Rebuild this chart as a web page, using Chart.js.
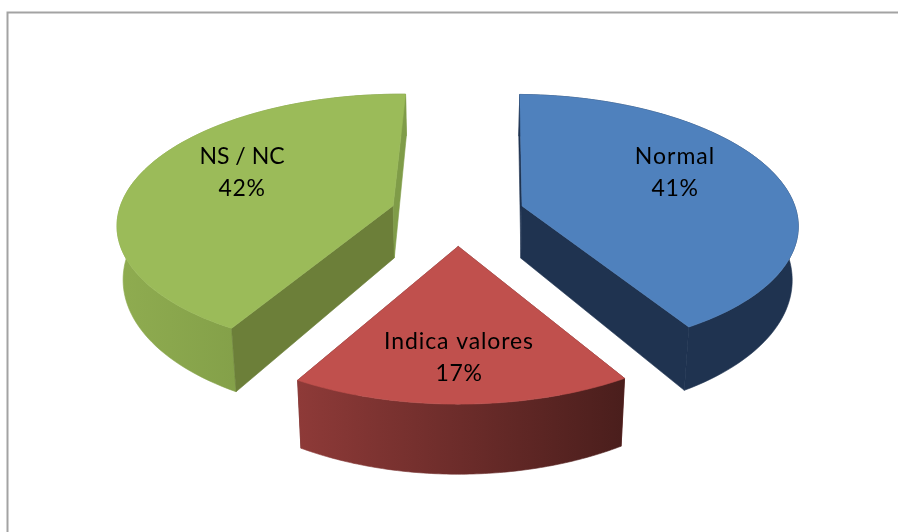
<!DOCTYPE html>
<html>
<head>
<meta charset="utf-8">
<style>html,body{margin:0;padding:0;background:#fff;overflow:hidden}canvas{display:block}</style>
<script src="https://cdn.jsdelivr.net/npm/chart.js@4"></script>
</head>
<body>
<canvas id="c" width="898" height="532"></canvas>
<script>
const categories = ["Normal", "Indica valores", "NS / NC"];
const percentages = [41, 17, 42];

// Slice styling, same order as the categories
const topColors = ["#4F81BD", "#C0504D", "#9BBB59"];
const startEdgeColors = ["#1F3350", "#6D2C2A", "#6C7F39"];
const endEdgeColors = ["#1F3350", "#6D2C2A", "#7F9C48"];
const wallStops = [
  ["#1F3350", "#1F3350"],
  ["#8E3A38", "#4A1E1C"],
  ["#8FAC50", "#74903F"]
];
const labelAnchors = [[675, 157], [459, 342], [242, 157]];
const labelSpacing = ["1px", "0.9px", "0px"];

// Camera: projects the pie's flat unit circle into the tilted 3D view
const view = { cx: 457.5, cy: 214, kx: 275, ky: 128, persp: 0.13, depth: 54, depthGrow: 0.14, depthPersp: 0.018, explode: 0.245 };

function project(X, Y, z) {
  const w = 1 / (1 - view.persp * Y + view.depthPersp * z);
  return [view.cx + view.kx * X * w, view.cy + (view.ky * Y + view.depth * (1 + view.depthGrow * Y) * z) * w];
}

function tracePath(ctx, pts) {
  ctx.beginPath();
  pts.forEach((p, i) => i ? ctx.lineTo(p[0], p[1]) : ctx.moveTo(p[0], p[1]));
  ctx.closePath();
}

function paint(ctx, pts, style) {
  tracePath(ctx, pts);
  ctx.fillStyle = style;
  ctx.fill();
  ctx.strokeStyle = style;
  ctx.lineWidth = 0.6;
  ctx.stroke();
}

const tiltedPie = {
  id: "tiltedPie",
  beforeDraw(chart) {
    const ctx = chart.ctx;
    ctx.save();
    ctx.strokeStyle = "#A3A3A3";
    ctx.lineWidth = 2;
    ctx.beginPath();
    ctx.moveTo(7.5, chart.height + 2);
    ctx.lineTo(7.5, 12.5);
    ctx.lineTo(chart.width + 2, 12.5);
    ctx.stroke();
    ctx.restore();
  },
  beforeDatasetsDraw(chart) {
    const ctx = chart.ctx;
    const arcs = chart.getDatasetMeta(0).data;
    ctx.save();
    arcs.forEach((arc, i) => {
      // Angles come from the pie's own arc elements; clockwise from 12 o'clock
      const a0 = arc.startAngle + Math.PI / 2;
      const a1 = arc.endAngle + Math.PI / 2;
      const mid = (a0 + a1) / 2;
      const ox = view.explode * Math.sin(mid);
      const oy = -view.explode * Math.cos(mid);
      const rim = z => {
        const pts = [];
        const steps = 90;
        for (let s = 0; s <= steps; s++) {
          const t = a0 + (a1 - a0) * s / steps;
          pts.push(project(ox + Math.sin(t), oy - Math.cos(t), z));
        }
        return pts;
      };
      const topRim = rim(0);
      const lowRim = rim(1);
      const apexTop = project(ox, oy, 0);
      const apexLow = project(ox, oy, 1);
      const startFace = [apexTop, topRim[0], lowRim[0], apexLow];
      const endFace = [apexTop, topRim[topRim.length - 1], lowRim[lowRim.length - 1], apexLow];
      // A cut face whose normal points away from the viewer goes behind the outer wall
      const startFront = Math.sin(a0) < 0;
      const endFront = Math.sin(a1) > 0;

      if (!startFront) paint(ctx, startFace, startEdgeColors[i]);
      if (!endFront) paint(ctx, endFace, endEdgeColors[i]);

      const xs = topRim.map(p => p[0]);
      const grad = ctx.createLinearGradient(Math.min(...xs), 0, Math.max(...xs), 0);
      grad.addColorStop(0, wallStops[i][0]);
      grad.addColorStop(1, wallStops[i][1]);
      paint(ctx, topRim.concat(lowRim.slice().reverse()), grad);

      if (startFront) paint(ctx, startFace, startEdgeColors[i]);
      if (endFront) paint(ctx, endFace, endEdgeColors[i]);

      paint(ctx, [apexTop].concat(topRim), topColors[i]);
    });

    ctx.fillStyle = "#000";
    ctx.font = "23px Lato, 'Open Sans', sans-serif";
    ctx.textAlign = "center";
    ctx.textBaseline = "middle";
    categories.forEach((name, i) => {
      const [lx, ly] = labelAnchors[i];
      if ("letterSpacing" in ctx) ctx.letterSpacing = labelSpacing[i];
      ctx.fillText(name, lx, ly);
      if ("letterSpacing" in ctx) ctx.letterSpacing = "0.6px";
      ctx.fillText(percentages[i] + "%", lx, ly + 32);
    });
    ctx.restore();
    return false;
  }
};

new Chart(document.getElementById("c"), {
  type: "pie",
  data: {
    labels: categories,
    datasets: [{ data: percentages, backgroundColor: topColors, borderWidth: 0 }]
  },
  options: {
    responsive: false,
    animation: false,
    rotation: 1.2,
    plugins: { legend: { display: false }, tooltip: { enabled: false } }
  },
  plugins: [tiltedPie]
});
</script>
</body>
</html>
